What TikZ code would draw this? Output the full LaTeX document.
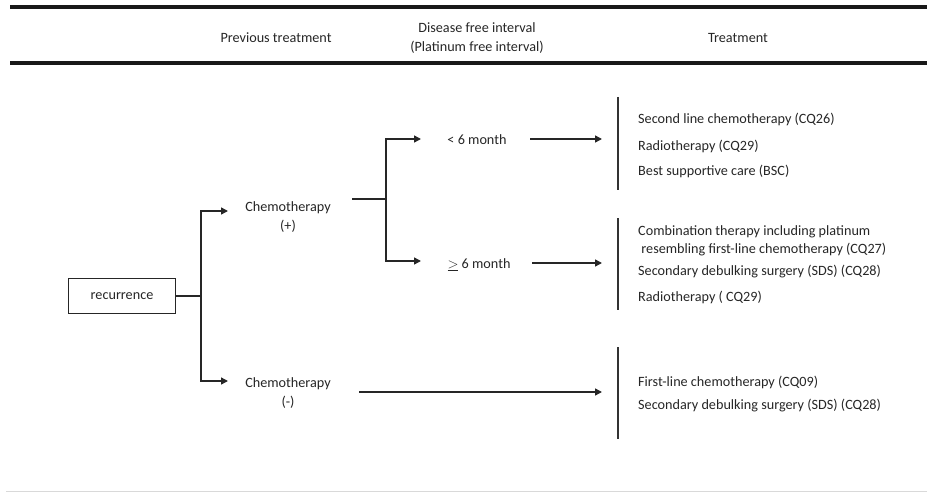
\documentclass[tikz,border=0pt]{standalone}
\usepackage{fontspec}
\setmainfont{Carlito}
\usetikzlibrary{arrows.meta}
\begin{document}
\begin{tikzpicture}[x=1pt,y=-1pt,
  txt/.style={inner sep=0pt,font=\fontsize{14.2}{18.5}\selectfont,color=black!85},
  ctr/.style={txt,align=center},
  lft/.style={txt,anchor=west},
  conn/.style={line width=1.4pt,color=black!85},
  arr/.style={conn,-{Triangle[length=7pt,width=7pt]}},
  bar/.style={line width=1.6pt,color=black!80},
  rule/.style={line width=3.2pt,color=black!90}]
\useasboundingbox (0,0) rectangle (927,492);
% header rules
\coordinate (r1a) at (10,7); \coordinate (r1b) at (927,7);
\coordinate (r2a) at (10,63); \coordinate (r2b) at (927,63);
\draw[rule] (r1a) -- (r1b);
\draw[rule] (r2a) -- (r2b);
\coordinate (r3a) at (6,491); \coordinate (r3b) at (927,491);
\draw[line width=0.8pt,color=black!15] (r3a) -- (r3b);
% header texts
\node[ctr] (h1) at (276,38) {Previous treatment};
\node[ctr] (h2) at (477,38) {Disease free interval\\(Platinum free interval)};
\node[ctr] (h3) at (738,38) {Treatment};
% nodes
\node[txt,draw,line width=1pt,minimum width=107pt,minimum height=35pt] (rec) at (122,296) {recurrence};
\node[ctr] (cp) at (288,217) {Chemotherapy\\(+)};
\node[ctr] (cm) at (288,393) {Chemotherapy\\(-)};
\node[txt] (lt6) at (477,140) {< 6 month};
\node[txt] (ge6) at (479,265) {$\underline{>}$ 6 month};
% junction coordinates
\coordinate (j1) at (201,296);
\coordinate (j1t) at (201,211);
\coordinate (j1b) at (201,381);
\coordinate (a1t) at (228,211);
\coordinate (a1b) at (228,381);
\coordinate (cpo) at (352,199);
\coordinate (j2) at (386,199);
\coordinate (j2t) at (386,139);
\coordinate (j2b) at (386,261);
\coordinate (a2t) at (421,139);
\coordinate (a2b) at (421,261);
\coordinate (l6s) at (530,139); \coordinate (l6e) at (602,139);
\coordinate (g6s) at (532,263); \coordinate (g6e) at (602,263);
\coordinate (cms) at (359,392); \coordinate (cme) at (602,392);
% connectors
\draw[conn] (rec.east) -- (j1);
\draw[arr] (j1) -- (j1t) -- (a1t);
\draw[arr] (j1) -- (j1b) -- (a1b);
\draw[conn] (cpo) -- (j2);
\draw[arr] (j2) -- (j2t) -- (a2t);
\draw[arr] (j2) -- (j2b) -- (a2b);
\draw[arr] (l6s) -- (l6e);
\draw[arr] (g6s) -- (g6e);
\draw[arr] (cms) -- (cme);
% bars
\coordinate (b1t) at (618,97); \coordinate (b1b) at (618,190);
\coordinate (b2t) at (618,218); \coordinate (b2b) at (618,310);
\coordinate (b3t) at (618,347); \coordinate (b3b) at (618,439);
\draw[bar] (b1t) -- (b1b);
\draw[bar] (b2t) -- (b2b);
\draw[bar] (b3t) -- (b3b);
% treatment texts
\node[lft] (t1) at (638,119) {Second line chemotherapy (CQ26)};
\node[lft] (t2) at (638,146) {Radiotherapy (CQ29)};
\node[lft] (t3) at (638,171) {Best supportive care (BSC)};
\node[lft] (t4) at (638,232) {Combination therapy including platinum};
\node[lft] (t5) at (638,250) {\ resembling first-line chemotherapy (CQ27)};
\node[lft] (t6) at (638,272) {Secondary debulking surgery (SDS) (CQ28)};
\node[lft] (t7) at (638,297) {Radiotherapy ( CQ29)};
\node[lft] (t8) at (638,382) {First-line chemotherapy (CQ09)};
\node[lft] (t9) at (638,406) {Secondary debulking surgery (SDS) (CQ28)};
\end{tikzpicture}
\end{document}
